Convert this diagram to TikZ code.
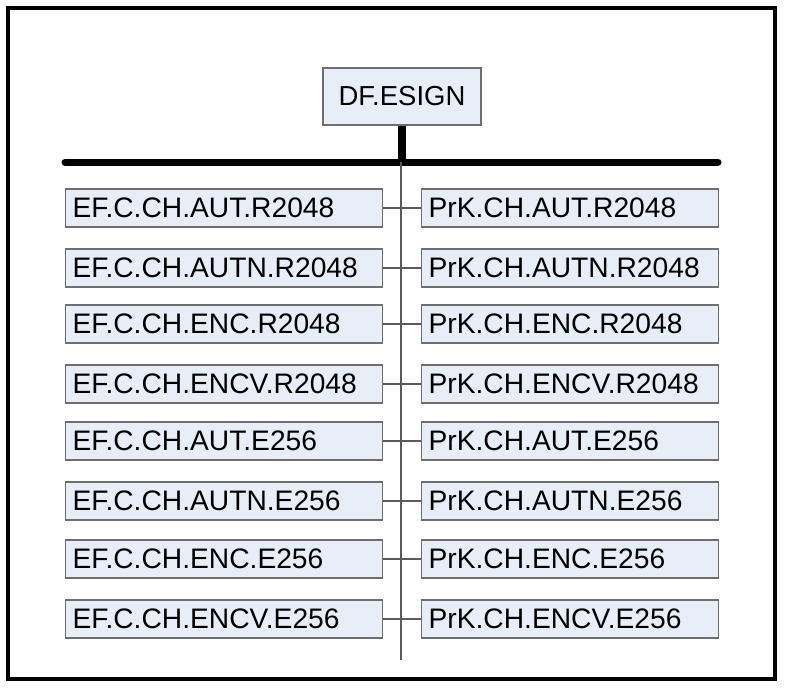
\documentclass[tikz,border=0pt]{standalone}
\usepackage{fontspec}
\setmainfont{Liberation Sans}
\begin{document}
\begin{tikzpicture}[x=1pt,y=-1pt,
  box/.style={draw=boxline, fill=boxfill, line width=1.2pt, inner ysep=0pt, inner xsep=7pt,
    minimum height=38pt, anchor=west, align=left, font=\fontsize{28.2}{30}\selectfont},
  lbox/.style={box, text width=303pt},
  rbox/.style={box, text width=283pt},
  conn/.style={draw=connline, line width=1.3pt}]
\definecolor{boxfill}{RGB}{232,238,248}
\definecolor{boxline}{RGB}{110,110,110}
\definecolor{connline}{RGB}{90,90,90}
\useasboundingbox (0,0) rectangle (785,689);
\draw[line width=4pt] (8.3,8) rectangle (775,678.5);
\node[draw=boxline, fill=boxfill, line width=1.2pt, minimum width=158pt, minimum height=57pt, inner sep=0pt,
  font=\fontsize{27.5}{30}\selectfont] (DF) at (402,96.5) {DF.ESIGN};
\coordinate (barL) at (65,162);
\coordinate (barR) at (718,162);
\coordinate (vtop) at (401,162);
\coordinate (vend) at (401,660);
\draw[line width=8pt] (DF.south) -- (DF.south |- barL);
\draw[line width=7pt, line cap=round] (barL) -- (barR);
\draw[conn] (vtop) -- (vend);
\foreach \i/\y/\l/\r in {1/208/EF.C.CH.AUT.R2048/PrK.CH.AUT.R2048,
  2/268/EF.C.CH.AUTN.R2048/PrK.CH.AUTN.R2048,
  3/324/EF.C.CH.ENC.R2048/PrK.CH.ENC.R2048,
  4/384/EF.C.CH.ENCV.R2048/PrK.CH.ENCV.R2048,
  5/441/EF.C.CH.AUT.E256/PrK.CH.AUT.E256,
  6/501/EF.C.CH.AUTN.E256/PrK.CH.AUTN.E256,
  7/559/EF.C.CH.ENC.E256/PrK.CH.ENC.E256,
  8/619/EF.C.CH.ENCV.E256/PrK.CH.ENCV.E256}{
  \node[lbox] (L\i) at (65,\y) {\l};
  \node[rbox] (R\i) at (421,\y) {\r};
  \draw[conn] (L\i.east) -- (R\i.west);
}
\end{tikzpicture}
\end{document}
